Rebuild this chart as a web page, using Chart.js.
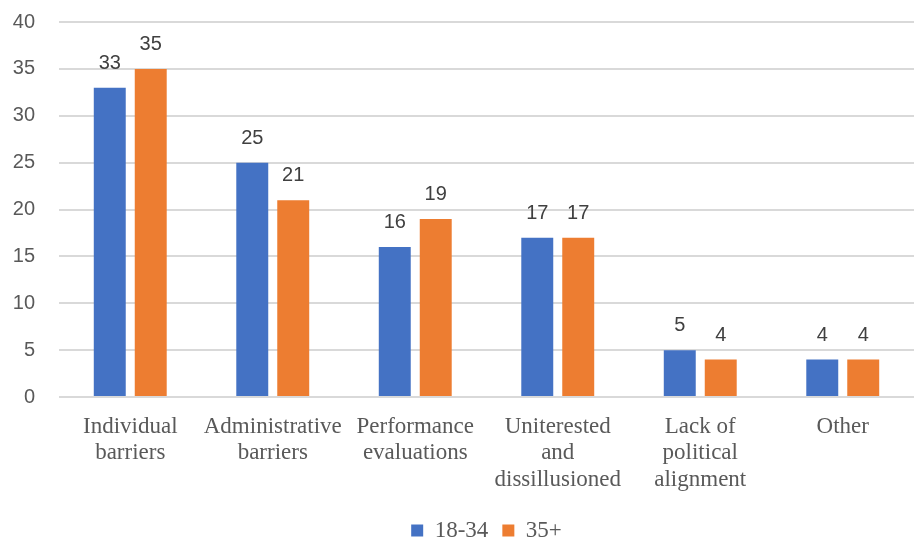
<!DOCTYPE html>
<html>
  <head>
    <title>Barriers by age group</title>
    <script src="https://cdn.jsdelivr.net/npm/chart.js"></script>
    <style type="text/css">
      html, body { margin: 0; padding: 0; background: #ffffff; }
      #wrap { width: 914px; height: 540px; position: relative; }
    </style>
  </head>
  <body>
    <div id="wrap"><canvas id="barChart"></canvas></div>
    <script>
      // chart data
      var categories = [
        ['Individual', 'barriers'],
        ['Administrative', 'barriers'],
        ['Performance', 'evaluations'],
        ['Uniterested', 'and', 'dissillusioned'],
        ['Lack of', 'political', 'alignment'],
        'Other'
      ];
      var seriesNames = ['18-34', '35+'];
      var young = [33, 25, 16, 17, 5, 4];
      var older = [35, 21, 19, 17, 4, 4];
      var yTicks = [0, 5, 10, 15, 20, 25, 30, 35, 40];

      // value labels above each bar
      var valueLabels = {
        id: 'valueLabels',
        afterDatasetsDraw: function(chart) {
          var ctx = chart.ctx;
          ctx.save();
          ctx.font = '20px "Liberation Sans"';
          ctx.fillStyle = '#404040';
          ctx.textAlign = 'center';
          ctx.textBaseline = 'alphabetic';
          chart.data.datasets.forEach(function(ds, i) {
            chart.getDatasetMeta(i).data.forEach(function(bar, j) {
              ctx.fillText(ds.data[j], bar.x, bar.y - 19);
            });
          });
          ctx.restore();
        }
      };

      var ctx = document.getElementById('barChart').getContext('2d');
      new Chart(ctx, {
        type: 'bar',
        data: {
          labels: categories,
          datasets: [{
            label: seriesNames[0],
            data: young,
            backgroundColor: '#4472C4',
            categoryPercentage: 0.575,
            barPercentage: 0.78
          }, {
            label: seriesNames[1],
            data: older,
            backgroundColor: '#ED7D31',
            categoryPercentage: 0.575,
            barPercentage: 0.78
          }]
        },
        options: {
          responsive: true,
          maintainAspectRatio: false,
          animation: false,
          layout: { padding: { top: 22, left: 2, right: 0, bottom: -12 } },
          plugins: {
            tooltip: { enabled: false },
            legend: {
              position: 'bottom',
              fullSize: false,
              labels: {
                boxWidth: 12,
                boxHeight: 12,
                padding: 14,
                color: '#595959',
                font: { family: '"Liberation Serif"', size: 23 }
              }
            }
          },
          scales: {
            x: {
              grid: { display: false },
              border: { display: false },
              ticks: {
                color: '#595959',
                padding: 8,
                maxRotation: 0,
                autoSkip: false,
                font: { family: '"Liberation Serif"', size: 23, lineHeight: 1.17 }
              },
              afterFit: function(scale) { scale.height = 108; }
            },
            y: {
              min: 0,
              max: 40,
              afterBuildTicks: function(scale) {
                scale.ticks = yTicks.map(function(v) { return { value: v }; });
              },
              grid: { color: '#D9D9D9', lineWidth: 2, drawTicks: false },
              border: { display: false },
              ticks: {
                color: '#595959',
                padding: 24,
                font: { family: '"Liberation Sans"', size: 20 }
              },
              afterFit: function(scale) {
                scale.width = 57;
                scale.paddingTop = 0;
              }
            }
          }
        },
        plugins: [valueLabels]
      });
    </script>
  </body>
</html>
